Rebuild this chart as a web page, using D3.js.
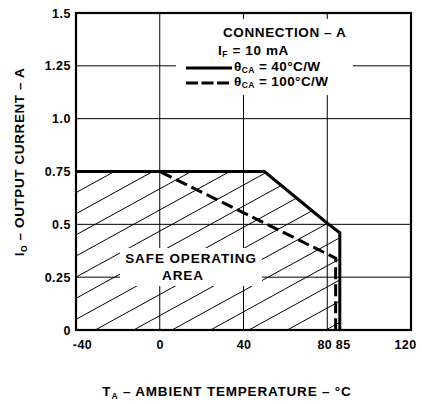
<!DOCTYPE html>
<html>
<head>
<meta charset="utf-8">
<script src="https://cdn.jsdelivr.net/npm/d3@7"></script>
<style>
  body { margin: 0; background: #fff; }
  svg text { font-family: "Liberation Sans", Arial, sans-serif; font-weight: bold; fill: #000; }
</style>
</head>
<body>
<div id="chart"></div>
<script>
(function() {
    "use strict";

    // data
    const xTicks = [-40, 0, 40, 80, 85, 120];
    const yTicks = [0, 0.25, 0.5, 0.75, 1.0, 1.25, 1.5];
    const yTickLabels = ["0", "0.25", "0.5", "0.75", "1.0", "1.25", "1.5"];
    const xGrid = [0, 40, 80];
    const yGrid = [0.25, 0.5, 1.0, 1.25];
    // theta CA = 40 C/W (solid)
    const solidT = [-40, 50, 80, 86, 86];
    const solidI = [0.75, 0.75, 0.505, 0.46, 0];
    // theta CA = 100 C/W (dashed)
    const dashT = [-40, 0, 84, 84];
    const dashI = [0.75, 0.75, 0.34, 0];

    const width = 422, height = 404;
    const margin = {left: 76, right: 11, top: 13, bottom: 74};

    const svg = d3.select("#chart").append("svg")
        .attr("width", width).attr("height", height);

    const x = d3.scaleLinear().domain([-40, 120]).range([margin.left, width - margin.right]);
    const y = d3.scaleLinear().domain([0, 1.5]).range([height - margin.bottom, margin.top]);

    const solid = solidT.map((t, i) => [t, solidI[i]]);
    const dashed = dashT.map((t, i) => [t, dashI[i]]);
    const line = d3.line().x(d => x(d[0])).y(d => y(d[1]));

    // boxes that blank grid and hatch behind the texts
    const textBox = {x0: 120, x1: 262, y0: 248, y1: 286};
    const legendBox = {x0: 176, x1: 353, y0: 19, y1: 95};

    // grid
    const grid = svg.append("g").attr("stroke", "#000").attr("stroke-width", 1);
    grid.selectAll(".vg").data(xGrid).enter().append("line")
        .attr("x1", d => x(d)).attr("x2", d => x(d))
        .attr("y1", y(0)).attr("y2", y(1.5));
    grid.selectAll(".hg").data(yGrid).enter().append("line")
        .attr("x1", x(-40)).attr("x2", x(120))
        .attr("y1", d => y(d)).attr("y2", d => y(d));

    // hatching of the safe area, clipped to the solid curve
    const defs = svg.append("defs");
    const poly = solid.concat([[-40, 0]]);
    defs.append("clipPath").attr("id", "safe")
        .append("path").attr("d", line(poly) + "Z");

    const hatchStep = 0.1;  // vertical step between hatch lines, A
    const slope = 0.55;     // rise in px per px
    const hatch = svg.append("g").attr("clip-path", "url(#safe)")
        .attr("stroke", "#000").attr("stroke-width", 1);
    const ks = d3.range(-8, 20);
    const x0 = x(-40), x1 = x(120);
    hatch.selectAll("line").data(ks).enter().append("line")
        .attr("x1", x0).attr("y1", k => y(0.75 - k * hatchStep))
        .attr("x2", x1).attr("y2", k => y(0.75 - k * hatchStep) - slope * (x1 - x0));

    // white boxes
    [textBox, legendBox].forEach(b => {
        svg.append("rect").attr("x", b.x0).attr("y", b.y0)
            .attr("width", b.x1 - b.x0).attr("height", b.y1 - b.y0)
            .attr("fill", "#fff");
    });

    // curves
    svg.append("path").attr("d", line(dashed))
        .attr("fill", "none").attr("stroke", "#000").attr("stroke-width", 3)
        .attr("stroke-dasharray", "12,5");
    svg.append("path").attr("d", line(solid))
        .attr("fill", "none").attr("stroke", "#000").attr("stroke-width", 3)
        .attr("stroke-linejoin", "miter");

    // frame
    svg.append("rect").attr("x", x(-40)).attr("y", y(1.5))
        .attr("width", x(120) - x(-40)).attr("height", y(0) - y(1.5))
        .attr("fill", "none").attr("stroke", "#000").attr("stroke-width", 2.2);

    // axes (labels only)
    const xShift = {"-40": 6, "80": -3, "85": 5, "120": -6};
    const xAxis = d3.axisBottom(x).tickValues(xTicks).tickSize(0).tickPadding(10)
        .tickFormat(d => String(d));
    const gx = svg.append("g").attr("transform", `translate(0,${y(0)})`).call(xAxis);
    gx.select(".domain").remove();
    gx.selectAll("text").attr("font-size", 12.5).attr("letter-spacing", 0.4)
        .attr("dx", d => xShift[d] || 0);

    const yAxis = d3.axisLeft(y).tickValues(yTicks).tickSize(0).tickPadding(5)
        .tickFormat((d, i) => yTickLabels[i]);
    const gy = svg.append("g").attr("transform", `translate(${x(-40)},0)`).call(yAxis);
    gy.select(".domain").remove();
    gy.selectAll("text").attr("font-size", 12.5).attr("letter-spacing", 0.5);
    svg.selectAll(".tick text").attr("font-family", null).attr("fill", null);

    // axis titles
    const xt = svg.append("text").attr("x", 227).attr("y", 396)
        .attr("text-anchor", "middle").attr("font-size", 13.5).attr("letter-spacing", 0.8);
    xt.append("tspan").text("T");
    xt.append("tspan").text("A").attr("font-size", 8.5).attr("dy", 3);
    xt.append("tspan").text(" \u2013 AMBIENT TEMPERATURE \u2013 \u00B0C").attr("dy", -3);

    const yt = svg.append("text").attr("transform", "translate(24,162) rotate(-90)")
        .attr("text-anchor", "middle").attr("font-size", 13.5).attr("letter-spacing", 0.6);
    yt.append("tspan").text("I");
    yt.append("tspan").text("O").attr("font-size", 8.5).attr("dy", 3);
    yt.append("tspan").text(" \u2013 OUTPUT CURRENT \u2013 A").attr("dy", -3);

    // safe area label
    svg.append("text").attr("x", 191).attr("y", 263).attr("text-anchor", "middle")
        .attr("font-size", 13.5).attr("letter-spacing", 0.9).text("SAFE OPERATING");
    svg.append("text").attr("x", 183).attr("y", 280).attr("text-anchor", "middle")
        .attr("font-size", 13.5).attr("letter-spacing", 0.9).text("AREA");

    // legend
    svg.append("text").attr("x", 223).attr("y", 37)
        .attr("font-size", 13.5).attr("letter-spacing", 0.6).text("CONNECTION \u2013 A");
    const lf = svg.append("text").attr("x", 218).attr("y", 55)
        .attr("font-size", 13.5).attr("letter-spacing", 0.6);
    lf.append("tspan").text("I");
    lf.append("tspan").text("F").attr("font-size", 8.5).attr("dy", 2);
    lf.append("tspan").text(" = 10 mA").attr("dy", -2);

    const legendItems = [
        {label: "40\u00B0C/W", dash: null, y: 71},
        {label: "100\u00B0C/W", dash: "12,3.5", y: 86}
    ];
    legendItems.forEach(it => {
        svg.append("line").attr("x1", 186).attr("x2", 232)
            .attr("y1", it.y - 3).attr("y2", it.y - 3)
            .attr("stroke", "#000").attr("stroke-width", 3)
            .attr("stroke-dasharray", it.dash);
        const t = svg.append("text").attr("x", 234).attr("y", it.y)
            .attr("font-size", 13.5).attr("letter-spacing", 0.4);
        t.append("tspan").text("\u03B8");
        t.append("tspan").text("CA").attr("font-size", 8.5).attr("dy", 2);
        t.append("tspan").text(" = " + it.label).attr("dy", -2);
    });
})();
</script>
</body>
</html>
